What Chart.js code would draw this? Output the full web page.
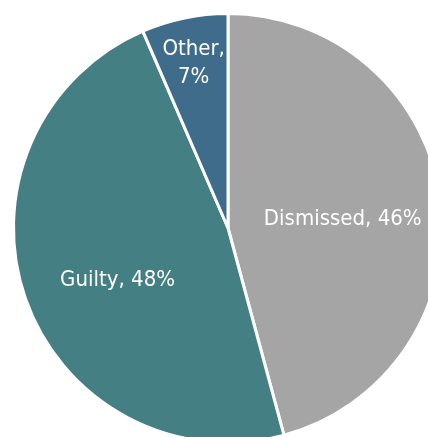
<!DOCTYPE HTML>
<html>
  <head>
    <script src="https://cdn.jsdelivr.net/npm/chart.js"></script>
    <style>
      body { margin: 0; overflow: hidden; background: #fff; }
    </style>
  </head>
  <body>
    <div style="position: absolute; left: 0; top: 0; width: 456px; height: 456px;">
      <canvas id="pie-chart" width="456" height="456"></canvas>
    </div>

    <script>
      const categories = ['Dismissed', 'Guilty', 'Other'];
      const shares = [45.8, 47.7, 6.5];
      const percent_labels = ['46%', '48%', '7%'];
      const colors = ['#A5A5A5', '#447F83', '#3F6C8B'];

      // label placement inside each slice: [fraction of radius, dx, dy]
      const label_place = [[0.535, 1, 6], [0.57, 5, 12], [0.79, 0, 1]];

      const slice_labels = {
        id: 'slice_labels',
        afterDatasetsDraw(chart) {
          const ctx = chart.ctx;
          const arcs = chart.getDatasetMeta(0).data;
          ctx.save();
          ctx.fillStyle = '#ffffff';
          ctx.font = '22px "DejaVu Sans Condensed", "DejaVu Sans"';
          ctx.textAlign = 'center';
          ctx.textBaseline = 'middle';
          arcs.forEach(function(arc, i) {
            const mid = (arc.startAngle + arc.endAngle) / 2;
            const r = arc.outerRadius * label_place[i][0];
            const x = arc.x + Math.cos(mid) * r + label_place[i][1];
            const y = arc.y + Math.sin(mid) * r + label_place[i][2];
            const text = categories[i] + ', ' + percent_labels[i];
            if (i == 2) {
              ctx.fillText(categories[i] + ',', x, y - 14);
              ctx.fillText(percent_labels[i], x, y + 14);
            } else {
              ctx.fillText(text, x, y);
            }
          });
          ctx.restore();
        }
      };

      const pie_context = document.getElementById("pie-chart");
      pie_chart = new Chart(pie_context, {
        type: 'pie',
        data: {
          labels: categories,
          datasets: [{
            data: shares,
            backgroundColor: colors,
            borderColor: '#ffffff',
            borderWidth: 3
          }]
        },
        options: {
          responsive: false,
          animation: false,
          layout: { padding: 12 },
          plugins: {
            legend: { display: false },
            tooltip: { enabled: false }
          }
        },
        plugins: [slice_labels]
      });
    </script>
  </body>
</html>
